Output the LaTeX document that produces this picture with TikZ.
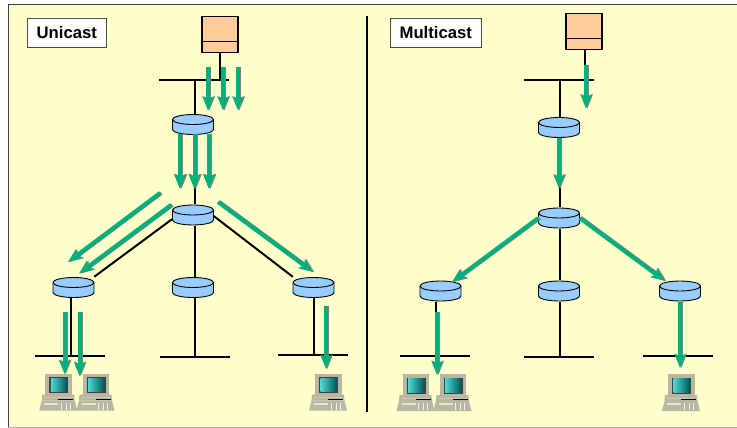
\documentclass[tikz,border=0pt]{standalone}
\usepackage{fontspec}
\setmainfont{Liberation Sans}
\usetikzlibrary{arrows.meta}
\definecolor{panelyellow}{HTML}{FFFFCC}
\definecolor{flowgreen}{HTML}{00B07C}
\definecolor{routerblue}{HTML}{99CCFF}
\definecolor{serverorange}{HTML}{FFCC99}
\definecolor{casegray}{HTML}{B7B7A2}
\newcommand{\flowarrow}[2]{
	\draw[flow,gray,transform canvas={xshift=1.3pt}] (#1) -- (#2);
	\draw[flow] (#1) -- (#2);
}
\tikzset{
	link/.style={line width=2pt,black},
	bus/.style={rectangle,fill=black,inner sep=0pt,minimum width=70pt,minimum height=2pt},
	router/.style={rectangle,inner sep=0pt,minimum width=41pt,minimum height=21pt},
	server/.style={rectangle,draw=black,line width=1.2pt,fill=serverorange,inner sep=0pt,minimum width=36pt,minimum height=36pt},
	title/.style={rectangle,draw=black!70,line width=0.7pt,fill=white,inner sep=0pt,minimum height=29pt,font=\fontsize{16.7}{18}\selectfont\bfseries},
	flow/.style={line width=4pt,flowgreen,-{Stealth[length=14pt,width=11pt,inset=3pt]}},
	pics/routerface/.style={code={
		\draw[black,line width=0.9pt,fill=routerblue] (-20.5,5) arc (180:0:20.5 and 5) -- (20.5,-5) arc (0:-180:20.5 and 5) -- cycle;
		\draw[black,line width=0.9pt] (-20.5,-5) arc (180:0:20.5 and 5);
	}},
	pics/computer/.style={code={
		\fill[casegray] (-13,0) rectangle (13.5,21);
		\fill[black!75] (-9,3.5) rectangle (10,19.5);
		\shade[left color=teal!45!cyan!70,right color=teal!70!black] (-7.5,4.5) rectangle (8.5,18);
		\fill[casegray] (-16,21) -- (16,21) -- (16.5,27) -- (-16.5,27) -- cycle;
		\fill[casegray!75!white] (-14,23.5) rectangle (14,24.5);
		\fill[black] (0,25) rectangle (15,26);
		\fill[casegray] (-16.5,27) -- (16.5,27) -- (19,37) -- (-19,37) -- cycle;
		\fill[panelyellow!70!casegray] (-14,29) rectangle (0,31);
		\draw[white!80!casegray,line width=0.5pt] (3,29) -- (3,36) (8,29) -- (8,36) (12,29) -- (12,36);
	}},
}
\begin{document}
\begin{tikzpicture}[x=1pt,y=-1pt]
	\useasboundingbox (0,0) rectangle (737,428);
	\fill[panelyellow] (8,5) rectangle (737,427);
	\draw[black!75,line width=1pt] (8,427) -- (8,5) -- (737,5);
	\draw[black!30,line width=1pt] (8,427) -- (737,427);
	\draw[black,line width=2pt] (366.7,16.5) -- (366.7,411.7);

	% unicast side
	\node[title,minimum width=78.5pt] (ulabel) at (66.8,32.5) {Unicast};
	\node[server] (usrc) at (220,34.7) {};
	\draw[black,line width=1.2pt] ([yshift=-6.5pt]usrc.west) -- ([yshift=-6.5pt]usrc.east);
	\node[bus] (ubus1) at (194,80) {};
	\node[bus] (ubus2) at (70,356) {};
	\node[bus] (ubus3) at (195,357) {};
	\node[bus] (ubus4) at (313,355) {};
	\node[router] (ur1) at (193,124.5) {};
	\node[router] (ur2) at (193,215) {};
	\node[router] (ur3) at (73.5,287.5) {};
	\node[router] (ur4) at (193,287.5) {};
	\node[router] (ur5) at (313.5,287.5) {};
	\draw[link] (usrc.south) -- (usrc.south |- ubus1.center);
	\draw[link] ([xshift=1pt]ubus1.center) -- ([xshift=1pt]ubus1.center |- ur1.north);
	\draw[link] (ubus3.center |- ur1.south) -- (ubus3.center |- ur2.north);
	\draw[link] (ubus3.center |- ur2.south) -- (ubus3.center |- ur4.north);
	\draw[link] (ubus3.center |- ur4.south) -- (ubus3.center);
	\draw[link] (ur2.west) ++(0,4) -- (ur3.north east);
	\draw[link] (ur2.east) ++(0,1) -- (ur5.north west);
	\draw[link] ([xshift=1pt]ubus2.center |- ur3.south) -- ([xshift=1pt]ubus2.center);
	\draw[link] ([xshift=1pt]ubus4.center |- ur5.south) -- ([xshift=1pt]ubus4.center);
	\foreach \r in {ur1,ur2,ur3,ur4,ur5}
		\pic at (\r) {routerface};

	\foreach \cx in {58.3,95.5,328}
		\pic at (\cx,373.5) {computer};

	\foreach \fx in {208,223,238}
		\flowarrow{\fx,67}{\fx,110.5}
	\foreach \fx in {180,194.5,209}
		\flowarrow{\fx,133.5}{\fx,188.5}
	\coordinate (ua1) at (160,193);
	\coordinate (ua2) at (68,262);
	\coordinate (ub1) at (171,205);
	\coordinate (ub2) at (79,273.5);
	\coordinate (uc1) at (218,202);
	\coordinate (uc2) at (313,272);
	\flowarrow{ua1}{ua2}
	\flowarrow{ub1}{ub2}
	\flowarrow{uc1}{uc2}
	\flowarrow{64.5,312}{64.5,374}
	\flowarrow{79.5,312}{79.5,376}
	\flowarrow{326,306}{326,369}

	% multicast side
	\node[title,minimum width=91pt] (mlabel) at (435.8,32.5) {Multicast};
	\node[server] (msrc) at (584,31.7) {};
	\draw[black,line width=1.2pt] ([yshift=-6.5pt]msrc.west) -- ([yshift=-6.5pt]msrc.east);
	\node[bus] (mbus1) at (559,80) {};
	\node[bus] (mbus2) at (435,356) {};
	\node[bus] (mbus3) at (559,357) {};
	\node[bus] (mbus4) at (678,356) {};
	\node[router] (mr1) at (559,127.5) {};
	\node[router] (mr2) at (559,218) {};
	\node[router] (mr3) at (440.5,291) {};
	\node[router] (mr4) at (559,291) {};
	\node[router] (mr5) at (680,291) {};
	\draw[link] ([xshift=1pt]msrc.south) -- ([xshift=1pt]msrc.south |- mbus1.center);
	\draw[link] ([xshift=1pt]mbus1.center) -- ([xshift=1pt]mbus1.center |- mr1.north);
	\draw[link] ([xshift=1pt]mbus3.center |- mr1.south) -- ([xshift=1pt]mbus3.center |- mr2.north);
	\draw[link] ([xshift=1pt]mbus3.center |- mr2.south) -- ([xshift=1pt]mbus3.center |- mr4.north);
	\draw[link] ([xshift=1pt]mbus3.center |- mr4.south) -- ([xshift=1pt]mbus3.center);
	\draw[link] ([xshift=1pt]mbus2.center |- mr3.south) -- ([xshift=1pt]mbus2.center);
	\draw[link] ([xshift=1pt]mbus4.center |- mr5.south) -- ([xshift=1pt]mbus4.center);
	\foreach \r in {mr1,mr2,mr3,mr4,mr5}
		\pic at (\r) {routerface};

	\foreach \cx in {415.5,452.5,681}
		\pic at (\cx,374) {computer};

	\coordinate (mt1) at (586,108.5);
	\coordinate (mt2) at (559,188.5);
	\coordinate (mt3) at (452,282);
	\coordinate (mt4) at (665,281);
	\coordinate (mt5) at (437,375);
	\coordinate (mt6) at (680,368);
	\flowarrow{586,65}{mt1}
	\flowarrow{mr1.south}{mt2}
	\flowarrow{mr2.west}{mt3}
	\flowarrow{mr2.east}{mt4}
	\flowarrow{437,312}{mt5}
	\flowarrow{mr5.south}{mt6}
\end{tikzpicture}
\end{document}
